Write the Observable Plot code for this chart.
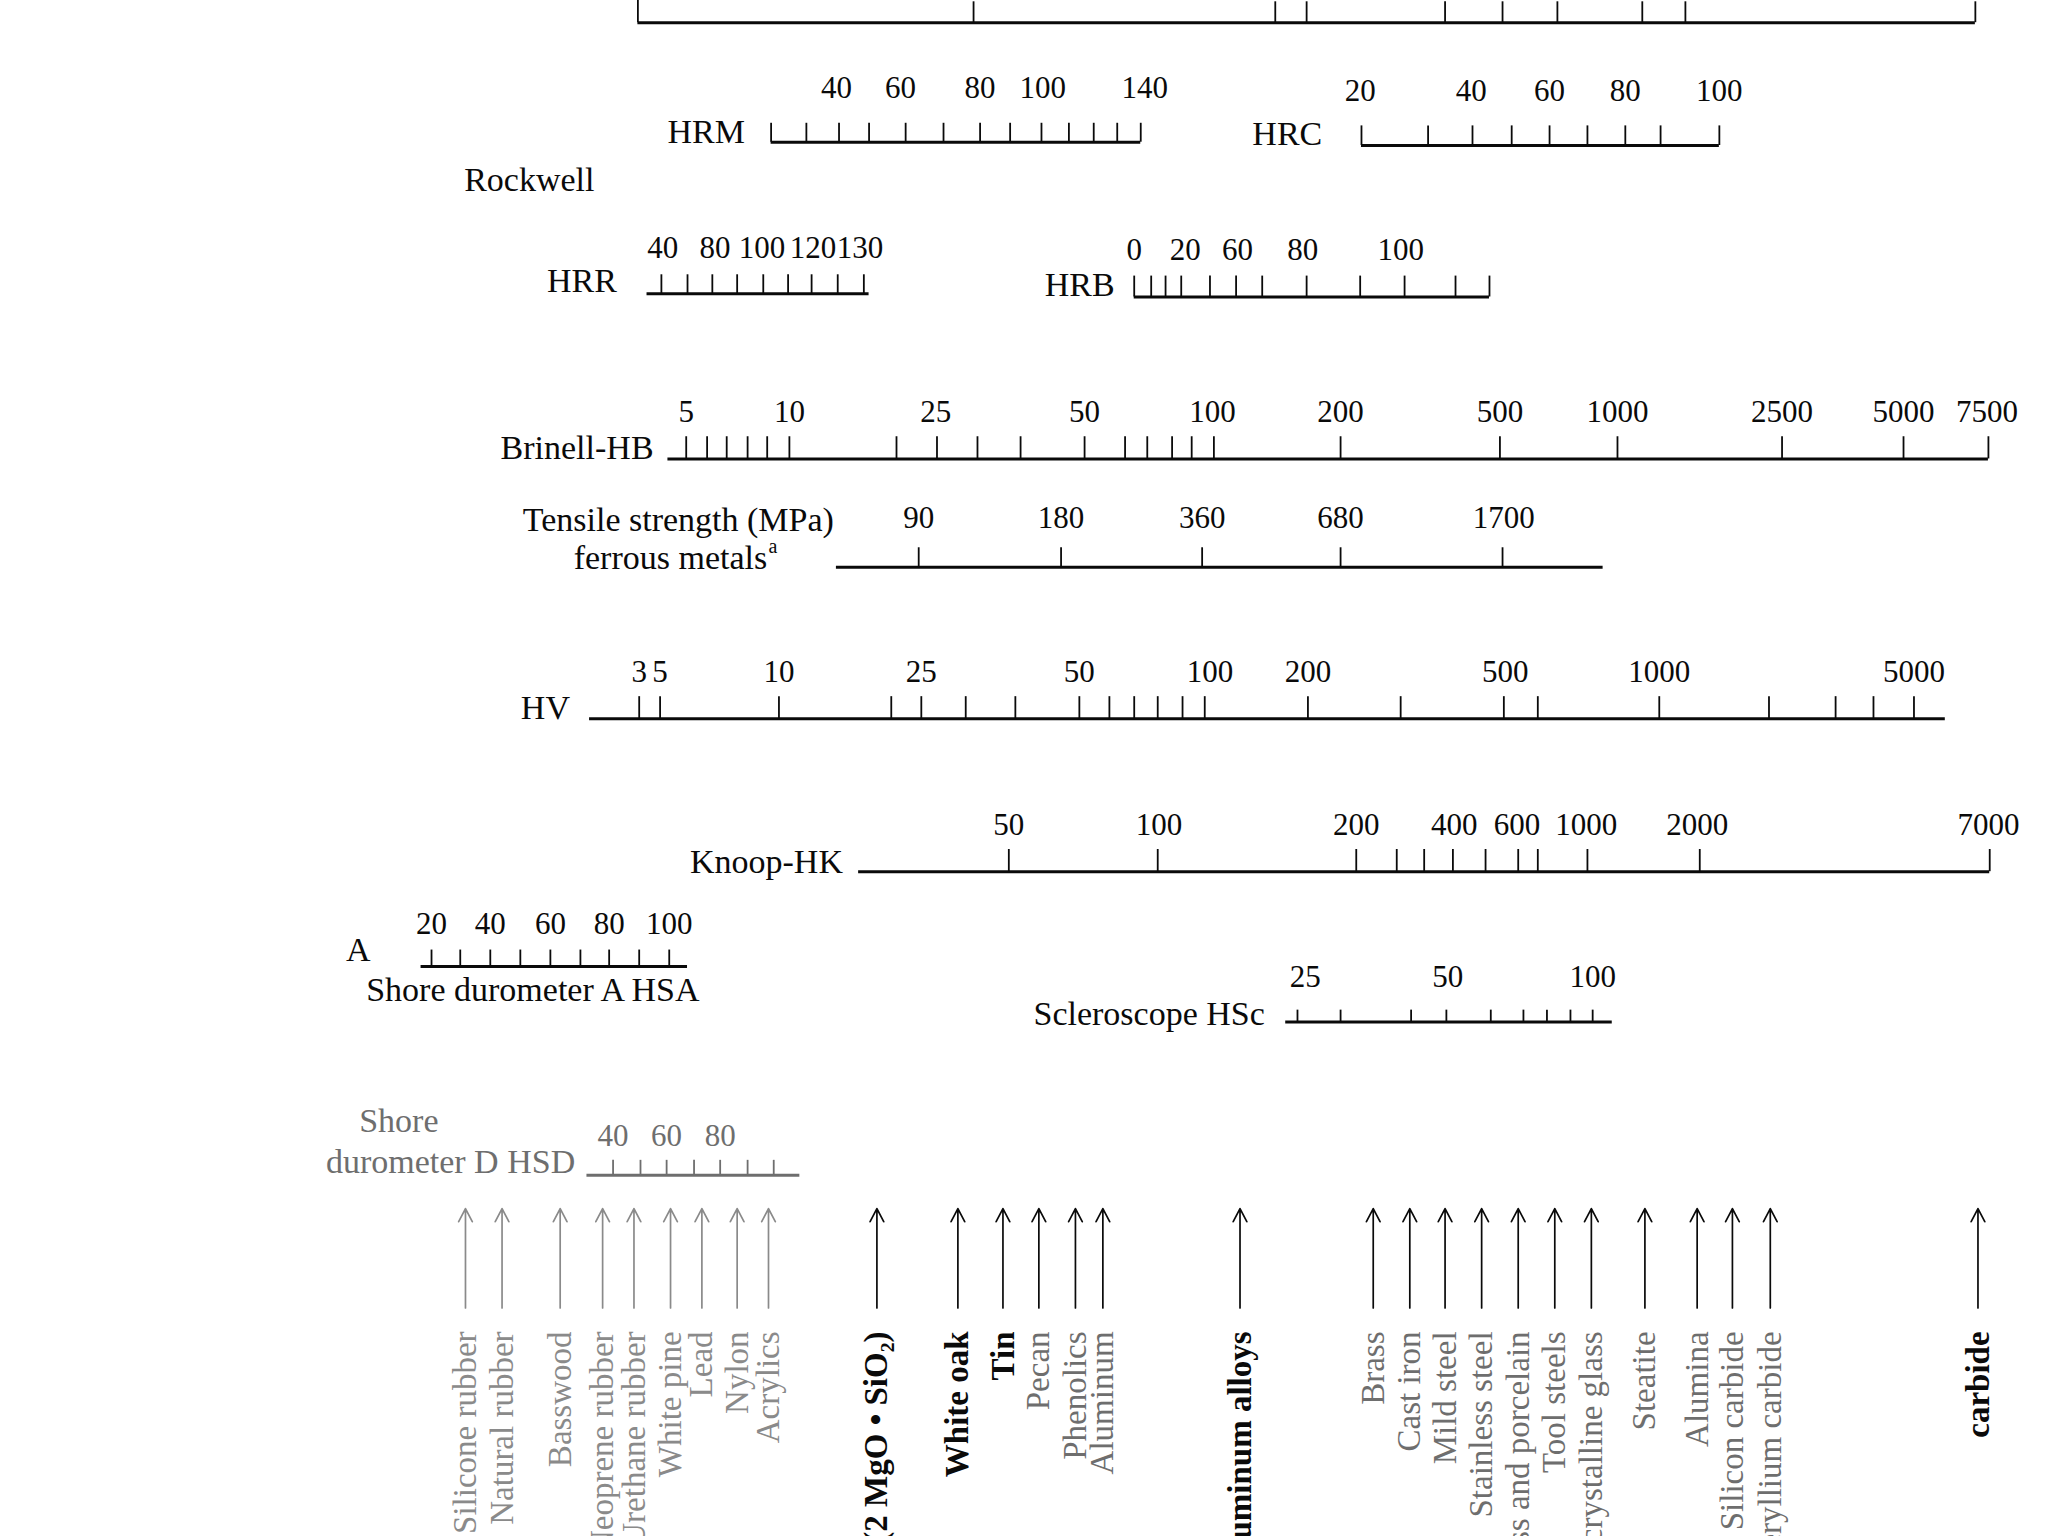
<!DOCTYPE html>
<html>
<head>
<meta charset="utf-8">
<script src="https://cdn.jsdelivr.net/npm/d3@7"></script>
<script src="https://cdn.jsdelivr.net/npm/@observablehq/plot@0.6"></script>
<style>
  html, body { margin: 0; padding: 0; background: #ffffff; overflow: hidden; }
  #chart svg { display: block; }
</style>
</head>
<body>
<div id="chart"></div>
<script>
// ---------------- DATA ----------------
// All positions are values on the chart's shared (common hardness) axis.

// Top scale (cut off at the top of the picture; only its ticks are visible)
const topRange = [488, 1512];
const topTicks = [488, 745, 976, 1000, 1106, 1150, 1192, 1257, 1290, 1512];

// Rockwell M
const hrmRange = [590, 873];
const hrmTicks = [590, 617, 642, 665, 693, 722, 750, 773, 797, 818, 837, 855, 873];
const hrmLabels = ["40", "60", "80", "100", "140"];
const hrmLabelAt = [640, 689, 750, 798, 876];

// Rockwell C
const hrcRange = [1042, 1316];
const hrcTicks = [1042, 1093, 1127, 1157, 1186, 1215, 1244, 1271, 1316];
const hrcLabels = ["20", "40", "60", "80", "100"];
const hrcLabelAt = [1041, 1126, 1186, 1244, 1316];

// Rockwell R
const hrrRange = [495, 665];
const hrrTicks = [506, 526, 545, 564, 584, 603, 621, 641, 661];
const hrrLabels = ["40", "80", "100", "120", "130"];
const hrrLabelAt = [507, 547, 583, 622, 658];

// Rockwell B
const hrbRange = [868, 1140];
const hrbTicks = [868, 881, 892, 904, 926, 946, 966, 1000, 1041, 1075, 1114, 1140];
const hrbLabels = ["0", "20", "60", "80", "100"];
const hrbLabelAt = [868, 907, 947, 997, 1072];

// Brinell
const hbRange = [511, 1522];
const hbTicks = [525, 541, 556, 572, 587, 604, 686, 717, 748, 781, 830, 861, 878, 897, 912, 929, 1026, 1148, 1238, 1364, 1457, 1522];
const hbLabels = ["5", "10", "25", "50", "100", "200", "500", "1000", "2500", "5000", "7500"];
const hbLabelAt = [525, 604, 716, 830, 928, 1026, 1148, 1238, 1364, 1457, 1521];

// Tensile strength (MPa), ferrous metals
const tsRange = [640, 1227];
const tsTicks = [703, 812, 920, 1026, 1150];
const tsLabels = ["90", "180", "360", "680", "1700"];
const tsLabelAt = [703, 812, 920, 1026, 1151];

// Vickers
const hvRange = [451, 1489];
const hvTicks = [489, 505, 596, 682, 705, 739, 777, 826, 849, 868, 886, 905, 922, 1001, 1072, 1151, 1177, 1270, 1354, 1405, 1434, 1465];
const hvLabels = ["3", "5", "10", "25", "50", "100", "200", "500", "1000", "5000"];
const hvLabelAt = [489, 505, 596, 705, 826, 926, 1001, 1152, 1270, 1465];

// Knoop
const hkRange = [657, 1523];
const hkTicks = [772, 886, 1038, 1069, 1090, 1112, 1137, 1162, 1177, 1215, 1301, 1523];
const hkLabels = ["50", "100", "200", "400", "600", "1000", "2000", "7000"];
const hkLabelAt = [772, 887, 1038, 1113, 1161, 1214, 1299, 1522];

// Shore durometer A
const hsaRange = [322, 526];
const hsaTicks = [330, 352, 375, 398, 421, 444, 466, 489, 512];
const hsaLabels = ["20", "40", "60", "80", "100"];
const hsaLabelAt = [330, 375, 421, 466, 512];

// Scleroscope
const hscRange = [984, 1234];
const hscTicks = [993, 1026, 1080, 1107, 1141, 1166, 1184, 1202, 1219];
const hscLabels = ["25", "50", "100"];
const hscLabelAt = [999, 1108, 1219];

// Shore durometer D
const hsdRange = [449, 612];
const hsdTicks = [469, 490, 510, 531, 551, 572, 592];
const hsdLabels = ["40", "60", "80"];
const hsdLabelAt = [469, 510, 551];

// Materials (arrows), their position on the common axis and their group
const materials = [
  "Silicone rubber", "Natural rubber", "Basswood", "Neoprene rubber", "Urethane rubber",
  "White pine", "Lead", "Nylon", "Acrylics",
  "Forsterite (2 MgO • SiO\u2082)",
  "White oak", "Tin", "Pecan", "Phenolics", "Aluminum",
  "Aluminum alloys",
  "Brass", "Cast iron", "Mild steel", "Stainless steel", "Glass and porcelain", "Tool steels",
  "Polycrystalline glass", "Steatite", "Alumina", "Silicon carbide", "Beryllium carbide",
  "carbide"
];
const materialAt = [
  356, 384, 428.5, 461, 485, 513, 537, 564, 588,
  671,
  733, 767.5, 795, 823, 844,
  949,
  1051, 1079, 1106, 1134, 1162, 1190, 1218, 1259, 1299, 1326, 1355,
  1514
];
const materialGroup = [
  "soft", "soft", "soft", "soft", "soft", "soft", "soft", "soft", "soft",
  "key",
  "key", "key", "mid", "mid", "mid",
  "key",
  "hard", "hard", "hard", "hard", "hard", "hard", "hard", "hard", "hard", "hard", "hard",
  "key"
];

// Scale titles
const scaleNames = ["HRM", "HRC", "Rockwell", "HRR", "HRB", "Brinell-HB",
  "Tensile strength (MPa)", "ferrous metals", "a", "HV", "Knoop-HK",
  "A", "Shore durometer A HSA", "Scleroscope HSc", "Shore", "durometer D HSD"];

// ---------------- LAYOUT & STYLE (kept apart from the data) ----------------
const W = 2048, H = 1536;
const UX = 1568, UY = 1176;           // chart units across / down
const INK = "#0a0a0a", GREY = "#6e6e6e", LIGHT = "#8a8a8a";
const FONT = "'Liberation Serif', 'Times New Roman', serif";
const TICK_FS = 31, NAME_FS = 34, MAT_FS = 33;

const rows = {
  top: {line: 17,    tickTop: 1,   color: INK},
  hrm: {line: 108.5, tickTop: 94,  labelBase: 75,  color: INK},
  hrc: {line: 111,   tickTop: 96,  labelBase: 77,  color: INK},
  hrr: {line: 224.5, tickTop: 210, labelBase: 197, color: INK},
  hrb: {line: 227,   tickTop: 211, labelBase: 199, color: INK},
  hb:  {line: 351,   tickTop: 334, labelBase: 323, color: INK},
  ts:  {line: 434,   tickTop: 419, labelBase: 404, color: INK},
  hv:  {line: 550,   tickTop: 533, labelBase: 522, color: INK},
  hk:  {line: 667,   tickTop: 650, labelBase: 639, color: INK},
  hsa: {line: 739.5, tickTop: 727, labelBase: 715, color: INK},
  hsc: {line: 782,   tickTop: 773, labelBase: 755, color: INK},
  hsd: {line: 899.5, tickTop: 888, labelBase: 877, color: GREY}
};

// where each scale title sits: [x, baseline, anchor, colour, font size]
const nameLayout = [
  [570, 109, "end", INK, NAME_FS],
  [1012, 111, "end", INK, NAME_FS],
  [355, 146, "start", INK, NAME_FS],
  [472, 223, "end", INK, NAME_FS],
  [853, 226, "end", INK, NAME_FS],
  [500, 351, "end", INK, NAME_FS],
  [519, 406, "middle", INK, NAME_FS],
  [587, 435, "end", INK, NAME_FS],
  [588, 423, "start", INK, 20],
  [436, 550, "end", INK, NAME_FS],
  [645, 668, "end", INK, NAME_FS],
  [274, 735, "middle", INK, NAME_FS],
  [280, 766, "start", INK, NAME_FS],
  [968, 784, "end", INK, NAME_FS],
  [305, 866, "middle", GREY, NAME_FS],
  [440, 898, "end", GREY, NAME_FS]
];

const groupStyle = {
  soft: {arrow: LIGHT, text: LIGHT, weight: "normal"},
  mid:  {arrow: INK,   text: GREY,  weight: "normal"},
  hard: {arrow: INK,   text: GREY,  weight: "normal"},
  key:  {arrow: INK,   text: INK,   weight: "bold"}
};
const arrowFrom = 1001, arrowTo = 925, matTop = 1019;

// ---------------- BUILD MARK TABLES ----------------
const baselines = [], tickRules = [], tickText = [];
function addScale(key, range, ticks, labels = [], labelAt = []) {
  const r = rows[key];
  baselines.push({x1: range[0], x2: range[1], y: r.line, color: r.color});
  ticks.forEach(t => tickRules.push({x: t, y1: r.tickTop, y2: r.line, color: r.color}));
  labels.forEach((l, i) => tickText.push({x: labelAt[i], y: r.labelBase, text: l, color: r.color}));
}
addScale("top", topRange, topTicks);
addScale("hrm", hrmRange, hrmTicks, hrmLabels, hrmLabelAt);
addScale("hrc", hrcRange, hrcTicks, hrcLabels, hrcLabelAt);
addScale("hrr", hrrRange, hrrTicks, hrrLabels, hrrLabelAt);
addScale("hrb", hrbRange, hrbTicks, hrbLabels, hrbLabelAt);
addScale("hb", hbRange, hbTicks, hbLabels, hbLabelAt);
addScale("ts", tsRange, tsTicks, tsLabels, tsLabelAt);
addScale("hv", hvRange, hvTicks, hvLabels, hvLabelAt);
addScale("hk", hkRange, hkTicks, hkLabels, hkLabelAt);
addScale("hsa", hsaRange, hsaTicks, hsaLabels, hsaLabelAt);
addScale("hsc", hscRange, hscTicks, hscLabels, hscLabelAt);
addScale("hsd", hsdRange, hsdTicks, hsdLabels, hsdLabelAt);
// the top scale's left end tick reaches the top edge
tickRules.find(d => d.x === topTicks[0] && d.y2 === rows.top.line).y1 = 0;

const names = scaleNames.map((t, i) => ({
  text: t, x: nameLayout[i][0], y: nameLayout[i][1], anchor: nameLayout[i][2],
  color: nameLayout[i][3], size: nameLayout[i][4]
}));

const mats = materials.map((m, i) => ({
  name: m, x: materialAt[i], ...groupStyle[materialGroup[i]]
}));

const namesByAnchor = a => names.filter(d => d.anchor === a);
const nameMark = (a) => Plot.text(namesByAnchor(a), {
  x: "x", y: "y", text: "text", fill: "color", fontSize: "size",
  textAnchor: a, lineAnchor: "bottom"
});

// ---------------- PLOT ----------------
const chart = Plot.plot({
  width: W, height: H,
  margin: 0,
  x: {domain: [0, UX], range: [0, W], axis: null},
  y: {domain: [0, UY], range: [0, H], axis: null},
  style: {background: "#ffffff", fontFamily: FONT},
  marks: [
    Plot.ruleY(baselines, {y: "y", x1: "x1", x2: "x2", stroke: "color", strokeWidth: 3}),
    Plot.ruleX(tickRules, {x: "x", y1: "y1", y2: "y2", stroke: "color", strokeWidth: 1.8}),
    Plot.text(tickText, {x: "x", y: "y", text: "text", fill: "color",
      fontSize: TICK_FS, textAnchor: "middle", lineAnchor: "bottom"}),
    nameMark("start"), nameMark("middle"), nameMark("end"),
    Plot.arrow(mats, {x1: "x", x2: "x", y1: () => arrowFrom, y2: () => arrowTo,
      stroke: "arrow", strokeWidth: 1.7, headLength: 13, headAngle: 55}),
    Plot.text(mats.filter(d => d.weight === "normal"), {x: "x", y: () => matTop, text: "name",
      fill: "text", rotate: -90, textAnchor: "end", lineAnchor: "middle", fontSize: MAT_FS}),
    Plot.text(mats.filter(d => d.weight === "bold"), {x: "x", y: () => matTop, text: "name",
      fill: "text", rotate: -90, textAnchor: "end", lineAnchor: "middle", fontSize: MAT_FS,
      fontWeight: "bold"})
  ]
});
document.getElementById("chart").append(chart);
</script>
</body>
</html>
